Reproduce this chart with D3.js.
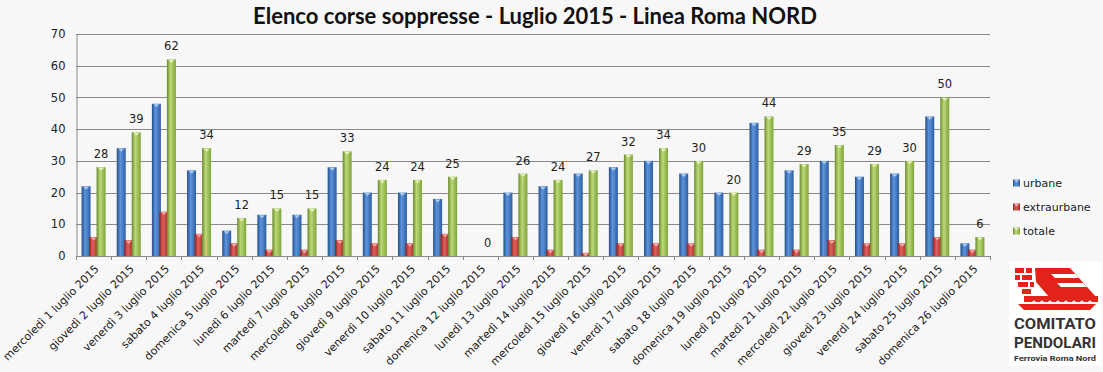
<!DOCTYPE html>
<html><head><meta charset="utf-8">
<script src="https://cdn.jsdelivr.net/npm/d3@7"></script>
<style>body{margin:0;background:#f7f7f7;}svg{display:block;}</style>
</head><body>
<svg id="c" width="1103" height="372"></svg>
<script>
const categories = ["mercoledì 1 luglio 2015","giovedì 2 luglio 2015","venerdì 3 luglio 2015","sabato 4 luglio 2015","domenica 5 luglio 2015","lunedì 6 luglio 2015","martedì 7 luglio 2015","mercoledì 8 luglio 2015","giovedì 9 luglio 2015","venerdì 10 luglio 2015","sabato 11 luglio 2015","domenica 12 luglio 2015","lunedì 13 luglio 2015","martedì 14 luglio 2015","mercoledì 15 luglio 2015","giovedì 16 luglio 2015","venerdì 17 luglio 2015","sabato 18 luglio 2015","domenica 19 luglio 2015","lunedì 20 luglio 2015","martedì 21 luglio 2015","mercoledì 22 luglio 2015","giovedì 23 luglio 2015","venerdì 24 luglio 2015","sabato 25 luglio 2015","domenica 26 luglio 2015"];
const urbane =      [22,34,48,27,8,13,13,28,20,20,18,0,20,22,26,28,30,26,20,42,27,30,25,26,44,4];
const extraurbane = [6,5,14,7,4,2,2,5,4,4,7,0,6,2,1,4,4,4,0,2,2,5,4,4,6,2];
const totale =      [28,39,62,34,12,15,15,33,24,24,25,0,26,24,27,32,34,30,20,44,29,35,29,30,50,6];
const seriesNames = ["urbane","extraurbane","totale"];
const yTicks = [0,10,20,30,40,50,60,70];
const title = "Elenco corse soppresse - Luglio 2015 - Linea Roma NORD";

(function(){
const seriesData = [urbane, extraurbane, totale];
const colors = {
  urbane: ["#244f8a","#5d94dc","#2e5f9f"],
  extraurbane: ["#8e2120","#e0605c","#a82b29"],
  totale: ["#6a8a2c","#bcd977","#7ea33a"]
};
const capColors = {urbane:"#a9c8f0", extraurbane:"#f2a9a7", totale:"#e3f0b8"};

const svg = d3.select("#c");
const W = 1103, H = 372;
svg.append("rect").attr("width",W).attr("height",H).attr("fill","#f7f7f7");

const defs = svg.append("defs");
seriesNames.forEach(s=>{
  const g = defs.append("linearGradient").attr("id","g_"+s).attr("x1","0").attr("x2","1").attr("y1","0").attr("y2","0");
  g.append("stop").attr("offset","0%").attr("stop-color",colors[s][0]);
  g.append("stop").attr("offset","40%").attr("stop-color",colors[s][1]);
  g.append("stop").attr("offset","100%").attr("stop-color",colors[s][2]);
});

const pl = 76, pr = 990, pt = 34, pb = 256;
const x0 = d3.scaleBand().domain(categories).range([pl,pr]).paddingInner(0.36).paddingOuter(0.18);
const x1 = d3.scaleBand().domain(seriesNames).range([0,x0.bandwidth()]);
const y = d3.scaleLinear().domain([0,70]).range([pb,pt]);

// gridlines
svg.append("g").selectAll("line").data(yTicks).join("line")
  .attr("x1",pl).attr("x2",pr).attr("y1",d=>Math.round(y(d))+0.5).attr("y2",d=>Math.round(y(d))+0.5)
  .attr("stroke","#8a8a8a").attr("stroke-width",1);

// y axis
const yAxis = svg.append("g").attr("transform",`translate(${pl+0.5},0)`)
  .call(d3.axisLeft(y).tickValues(yTicks).tickSize(0).tickPadding(11));
yAxis.select(".domain").attr("stroke","#8a8a8a");
yAxis.selectAll("text").attr("font-family","DejaVu Sans, Verdana, sans-serif").attr("font-size","11.5px").attr("fill","#222");

// bars
const groups = svg.append("g").selectAll("g").data(categories).join("g")
  .attr("transform",d=>`translate(${x0(d)},0)`);
seriesNames.forEach((s,si)=>{
  groups.append("rect")
    .attr("x",x1(s)-0.75)
    .attr("width",x1.bandwidth()+1.5)
    .attr("y",(d,i)=>y(seriesData[si][i]))
    .attr("height",(d,i)=>y(0)-y(seriesData[si][i]))
    .attr("fill","url(#g_"+s+")");
  groups.append("path")
    .attr("d",(d,i)=>{
      const v = seriesData[si][i]; if(v<=0) return null;
      const bx = x1(s)-0.75, bw = x1.bandwidth()+1.5, by = y(v);
      return `M${bx+1.5},${by+0.5}L${bx+bw-1.5},${by+0.5}L${bx+bw/2},${by+3.5}Z`;
    })
    .attr("fill",capColors[s]);
});

// x axis line and ticks
svg.append("line").attr("x1",pl).attr("x2",pr).attr("y1",pb+0.5).attr("y2",pb+0.5).attr("stroke","#8a8a8a");
const xAxis = svg.append("g").attr("transform",`translate(0,${pb+0.5})`)
  .call(d3.axisBottom(x0).tickSize(0).tickPadding(0));
xAxis.select(".domain").remove();
xAxis.selectAll("text")
  .attr("font-family","DejaVu Sans, Verdana, sans-serif").attr("font-size","11px").attr("fill","#222")
  .attr("text-anchor","end").attr("dy","0")
  .attr("transform","translate(6,13) rotate(-45)");
svg.append("g").selectAll("line").data(d3.range(categories.length+1)).join("line")
  .attr("x1",i=>Math.round(pl + i*x0.step())+0.5).attr("x2",i=>Math.round(pl + i*x0.step())+0.5)
  .attr("y1",pb).attr("y2",pb+4).attr("stroke","#8a8a8a");

// data labels (totale)
svg.append("g").selectAll("text").data(categories).join("text")
  .attr("x",d=>x0(d)+x1("totale")+x1.bandwidth()/2)
  .attr("y",(d,i)=>y(totale[i])-9)
  .attr("text-anchor","middle")
  .attr("font-family","DejaVu Sans, Verdana, sans-serif").attr("font-size","11.5px").attr("fill","#222")
  .text((d,i)=>totale[i]);

// title
svg.append("text").attr("x",535).attr("y",24).attr("text-anchor","middle")
  .attr("font-family","Lato, 'Open Sans', sans-serif").attr("font-weight","bold").attr("font-size","22px").attr("fill","#111")
  .text(title);

// legend
const leg = svg.append("g").selectAll("g").data(seriesNames).join("g")
  .attr("transform",(d,i)=>`translate(1013,${183 + i*24})`);
leg.append("rect").attr("x",0).attr("y",-3.5).attr("width",7).attr("height",7).attr("fill",d=>"url(#g_"+d+")");
leg.append("path").attr("d","M1,-3L6,-3L3.5,-0.5Z").attr("fill",d=>capColors[d]);
leg.append("text").attr("x",10).attr("y",4).attr("font-family","DejaVu Sans, Verdana, sans-serif").attr("font-size","11px").attr("fill","#222").text(d=>d);

// logo
const logo = svg.append("g");
logo.append("rect").attr("x",1009).attr("y",262).attr("width",93).attr("height",104).attr("fill","#ffffff");
const red = "#e2231a";
const bricks = [[1015,268,9,5],[1026,268,6,5],[1015,275,5,5],[1022,275,10,5],[1018,282,10,5],[1030,282,4,5],[1022,289,9,5]];
logo.selectAll("rect.b").data(bricks).join("rect").attr("class","b")
  .attr("x",d=>d[0]).attr("y",d=>d[1]).attr("width",d=>d[2]).attr("height",d=>d[3]).attr("fill",red);
logo.append("path").attr("d","M1035,268L1070,268L1097,298L1050,298L1036,282Z").attr("fill",red);
logo.append("path").attr("d","M1051,274L1075,274L1079,278L1055,278Z").attr("fill","#fff");
logo.append("path").attr("d","M1057,283L1083,283L1087,287L1061,287Z").attr("fill","#fff");
logo.append("rect").attr("x",1024).attr("y",296).attr("width",74).attr("height",6).attr("fill",red);
logo.selectAll("circle").data([1034,1042,1050,1058,1066,1074,1082,1090]).join("circle")
  .attr("cx",d=>d).attr("cy",302).attr("r",1.6).attr("fill","#fff");
logo.append("path").attr("d","M1018,304L1096,304L1090,310L1024,310Z").attr("fill",red);
const logoTexts = [["COMITATO",329,15],["PENDOLARI",348,15],["Ferrovia Roma Nord",360.5,7.5]];
logoTexts.forEach(([t,by,fs])=>{
  const g = logo.append("g").attr("transform",`translate(1014,${by})`);
  const tx = g.append("text").attr("x",0).attr("y",0)
    .attr("font-family","Roboto, sans-serif").attr("font-weight","bold").attr("font-size",fs+"px").attr("fill","#333").text(t);
  const w = tx.node().getComputedTextLength();
  g.attr("transform",`translate(1014,${by}) scale(${82/w},1)`);
});
})();
</script>
</body></html>
